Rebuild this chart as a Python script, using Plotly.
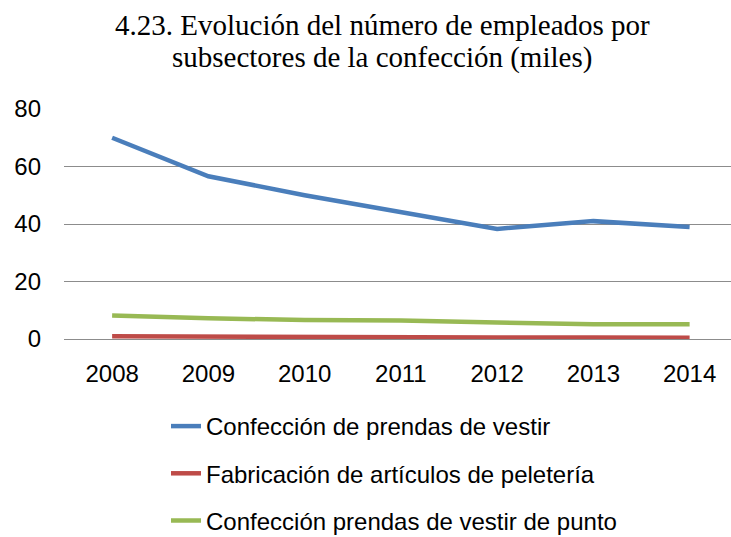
import plotly.graph_objects as go

years = ["2008", "2009", "2010", "2011", "2012", "2013", "2014"]
prendas_vestir = [70.0, 56.6, 50.0, 44.2, 38.3, 41.0, 39.0]
peleteria = [1.0, 0.8, 0.7, 0.6, 0.5, 0.5, 0.4]
prendas_punto = [8.2, 7.2, 6.6, 6.4, 5.7, 5.1, 5.1]

series_names = [
    "Confección de prendas de vestir",
    "Fabricación de artículos de peletería",
    "Confección prendas de vestir de punto",
]
series_values = [prendas_vestir, peleteria, prendas_punto]
colors = ["#4A7EBB", "#BE4B48", "#98B954"]

y_ticks = [0, 20, 40, 60, 80]
title_lines = [
    "4.23. Evolución del número de empleados por",
    "subsectores de la confección (miles)",
]

fig = go.Figure()
for i, (name, vals, col) in enumerate(zip(series_names, series_values, colors)):
    fig.add_trace(go.Scatter(
        x=years, y=vals, mode="lines", name=name,
        line=dict(color=col, width=4.5),
        legendgroup=f"g{i}",
    ))

W, H = 731, 537
ml, mr, mt, mb = 64, 0, 109, 198
pw, ph = W - ml - mr, H - mt - mb

for line, cy in zip(title_lines, [25, 58]):
    fig.add_annotation(
        text=line, showarrow=False,
        xref="paper", yref="paper",
        x=(382 - ml) / pw, xanchor="center",
        y=(H - mb - cy) / ph, yanchor="middle",
        font=dict(family="Liberation Serif, Times New Roman, serif", size=29, color="#000000"),
    )

fig.update_layout(
    width=W, height=H,
    margin=dict(l=ml, r=mr, t=mt, b=mb, pad=0, autoexpand=False),
    paper_bgcolor="white", plot_bgcolor="white",
    font=dict(family="Liberation Sans, Arial, sans-serif", size=24, color="#000000"),
    xaxis=dict(
        type="category", range=[-0.5, 6.43],
        showgrid=False, showline=False, ticks="",
        ticklabelstandoff=18,
        tickfont=dict(size=24),
    ),
    yaxis=dict(
        range=[0, 80], tickvals=y_ticks,
        showgrid=True, gridcolor="#8C8C8C", gridwidth=1.3,
        zeroline=True, zerolinecolor="#8C8C8C", zerolinewidth=1.3,
        showline=False, ticks="",
        ticklabelstandoff=22,
        tickfont=dict(size=24),
    ),
    showlegend=True,
    legend=dict(
        orientation="v",
        x=(166 - ml) / pw, xanchor="left",
        y=-(404 - (H - mb)) / ph, yanchor="top",
        tracegroupgap=13,
        borderwidth=0,
        font=dict(size=24),
        bgcolor="rgba(0,0,0,0)",
    ),
)

fig.write_html(
    "out.html",
    config={"displayModeBar": False},
    post_script="document.body.style.margin='0';",
)
